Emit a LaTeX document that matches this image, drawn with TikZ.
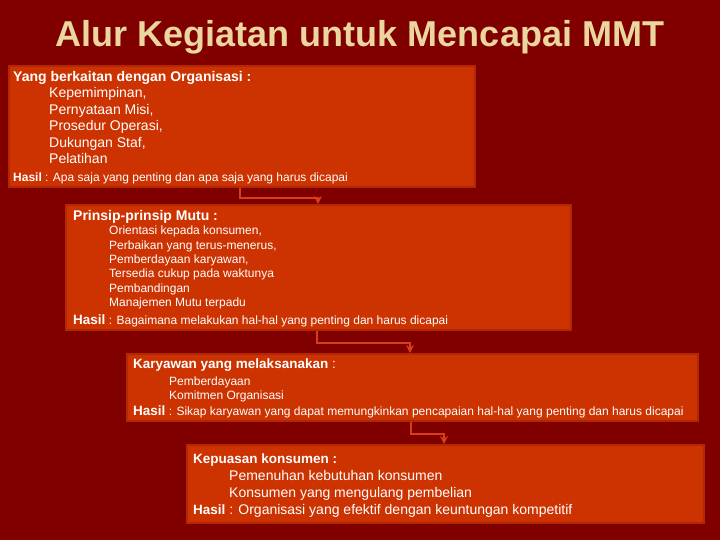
\documentclass[tikz,border=0pt]{standalone}
\usepackage{fontspec}
\setmainfont{Liberation Sans}
\usetikzlibrary{positioning,arrows.meta}
\definecolor{slidebg}{RGB}{128,0,0}
\definecolor{boxfill}{RGB}{204,51,0}
\definecolor{boxline}{RGB}{178,40,6}
\definecolor{titletan}{RGB}{236,214,160}
\definecolor{flowred}{RGB}{214,62,28}

\begin{document}
\begin{tikzpicture}[x=1pt,y=-1pt,
    stage/.style={draw=boxline,line width=2pt,fill=boxfill,rectangle,anchor=north west,inner sep=0pt},
    txt/.style={anchor=base west,inner sep=0pt,text=white},
    flow/.style={draw=flowred,line width=1.6pt,-{Stealth[length=8pt,width=8pt]}}]
    % slide
    \fill[slidebg] (0,0) rectangle (720,540);
    \useasboundingbox (0,0) rectangle (720,540);
    \node[anchor=base,inner sep=0pt,text=titletan,font=\fontsize{36}{40}\selectfont\bfseries] (title) at (360,47) {Alur Kegiatan untuk Mencapai MMT};

    % Organisasi
    \node[stage,minimum width=466pt,minimum height=121pt] (org) at (8,65) {};
    \node[txt,font=\fontsize{14}{16}\selectfont\bfseries] (orghead) at (13,82) {Yang berkaitan dengan Organisasi :};
    \foreach \t [count=\i] in {{Kepemimpinan,},{Pernyataan Misi,},{Prosedur Operasi,},{Dukungan Staf,},{Pelatihan}}
        \node[txt,font=\fontsize{14}{16}\selectfont] (org-\i) at (49,81.5+16.5*\i) {\t};
    \node[txt,font=\fontsize{12}{14}\selectfont] (orghasil) at (13,181.5) {\textbf{Hasil} : Apa saja yang penting dan apa saja yang harus dicapai};

    % Prinsip-prinsip Mutu
    \node[stage,minimum width=505pt,minimum height=125pt] (prinsip) at (65,204) {};
    \node[txt,font=\fontsize{14}{16}\selectfont\bfseries] (prinsiphead) at (73,220.5) {Prinsip-prinsip Mutu :};
    \foreach \t [count=\i] in {{Orientasi kepada konsumen,},{Perbaikan yang terus-menerus,},{Pemberdayaan karyawan,},{Tersedia cukup pada waktunya},{Pembandingan},{Manajemen Mutu terpadu}}
        \node[txt,font=\fontsize{12}{14}\selectfont] (prinsip-\i) at (109,220.7+14.3*\i) {\t};
    \node[txt,font=\fontsize{12}{14}\selectfont] (prinsiphasil) at (73,324.5) {{\fontsize{13.5}{16}\selectfont\bfseries Hasil} : Bagaimana melakukan hal-hal yang penting dan harus dicapai};

    % Karyawan
    \node[stage,minimum width=571pt,minimum height=67pt] (karyawan) at (126,353) {};
    \node[txt,font=\fontsize{13.5}{16}\selectfont] (karyawanhead) at (133,368) {\textbf{Karyawan yang melaksanakan} :};
    \foreach \t [count=\i] in {{Pemberdayaan},{Komitmen Organisasi}}
        \node[txt,font=\fontsize{12}{14}\selectfont] (karyawan-\i) at (169,370.5+14.5*\i) {\t};
    \node[txt,font=\fontsize{12}{14}\selectfont] (karyawanhasil) at (133,415) {{\fontsize{13.5}{16}\selectfont\bfseries Hasil} : Sikap karyawan yang dapat memungkinkan pencapaian hal-hal yang penting dan harus dicapai};

    % Kepuasan konsumen
    \node[stage,minimum width=517pt,minimum height=78pt] (kepuasan) at (186,444) {};
    \node[txt,font=\fontsize{13.5}{16}\selectfont\bfseries] (kepuasanhead) at (193,463) {Kepuasan konsumen :};
    \foreach \t [count=\i] in {{Pemenuhan kebutuhan konsumen},{Konsumen yang mengulang pembelian}}
        \node[txt,font=\fontsize{14}{16}\selectfont] (kepuasan-\i) at (229,463+17*\i) {\t};
    \node[txt,font=\fontsize{14}{16}\selectfont] (kepuasanhasil) at (193,514) {{\fontsize{13.5}{16}\selectfont\bfseries Hasil} : Organisasi yang efektif dengan keuntungan kompetitif};

    % alur
    \draw[flow] ([xshift=232pt]org.south west) -- ++(0,10) -| ([xshift=253pt]prinsip.north west);
    \draw[flow] ([xshift=252pt]prinsip.south west) -- ++(0,12) -| ([xshift=284pt]karyawan.north west);
    \draw[flow] ([xshift=285pt]karyawan.south west) -- ++(0,12) -| ([xshift=258pt]kepuasan.north west);
\end{tikzpicture}
\end{document}
